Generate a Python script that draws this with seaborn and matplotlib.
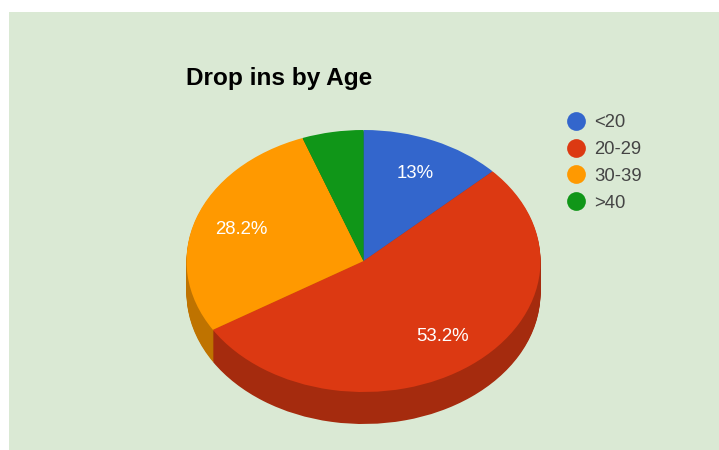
import matplotlib
matplotlib.use("Agg")
import matplotlib.pyplot as plt
from matplotlib.colors import to_rgb
from matplotlib.lines import Line2D
import numpy as np
import seaborn as sns

# Data
age_groups = ["<20", "20-29", "30-39", ">40"]
shares = [13.0, 53.2, 28.2, 5.6]
colors = ["#3366CC", "#DC3912", "#FF9900", "#109618"]

BG = "#DAE9D4"
W, H = 719, 450
# pie geometry in pixels
CX, CY, RX, RY, DEPTH = 363.5, 261, 177, 131, 32


def label_pct(p):
    # the small slice has no label in the original
    return f"{p:.3g}%" if p >= 10 else ""


sns.set_theme(style="white")
plt.rcParams["font.family"] = ["Liberation Sans", "DejaVu Sans"]

fig = plt.figure(figsize=(W / 100, H / 100), dpi=100, facecolor="white")
ax = fig.add_axes([9 / W, 0, (W - 9) / W, (H - 12) / H], facecolor=BG)

# side of the pie: darker copies stacked downwards
dark = [tuple(np.array(to_rgb(c)) * 0.75) for c in colors]
for offset in np.arange(DEPTH, 0, -1):
    ax.pie(shares, colors=dark, startangle=90, counterclock=False,
           center=(0, -offset / RY), radius=1,
           wedgeprops={"linewidth": 0, "edgecolor": "none"})

wedges, texts, autotexts = ax.pie(
    shares, colors=colors, startangle=90, counterclock=False,
    autopct=label_pct, pctdistance=0.73, radius=1,
    wedgeprops={"linewidth": 0, "edgecolor": "none"},
    textprops={"color": "white", "fontsize": 13.4},
)

# squash to the ellipse of the original
ax.set_aspect("auto")
ax.set_xlim((9 - CX) / RX, (W - CX) / RX)
ax.set_ylim((CY - H) / RY, (CY - 12) / RY)
ax.set_frame_on(True)
ax.patch.set_visible(True)
ax.set_xticks([])
ax.set_yticks([])
for s in ax.spines.values():
    s.set_visible(False)

fig.text(186 / W, 1 - 78 / H, "Drop ins by Age", fontsize=17.6, fontweight="bold",
         color="black", ha="left", va="center")

handles = [Line2D([], [], linestyle="none", marker="o", markersize=13.5,
                  markerfacecolor=c, markeredgecolor="none") for c in colors]
leg = fig.legend(handles, age_groups, loc="upper left",
                 bbox_to_anchor=(559 / W, 1 - 114 / H), frameon=False,
                 fontsize=13.3, labelspacing=0.54, handletextpad=0.05,
                 borderpad=0, borderaxespad=0, handlelength=1.85)
for t in leg.get_texts():
    t.set_color("#444444")

fig.savefig("out.png", dpi=100, facecolor="white")
